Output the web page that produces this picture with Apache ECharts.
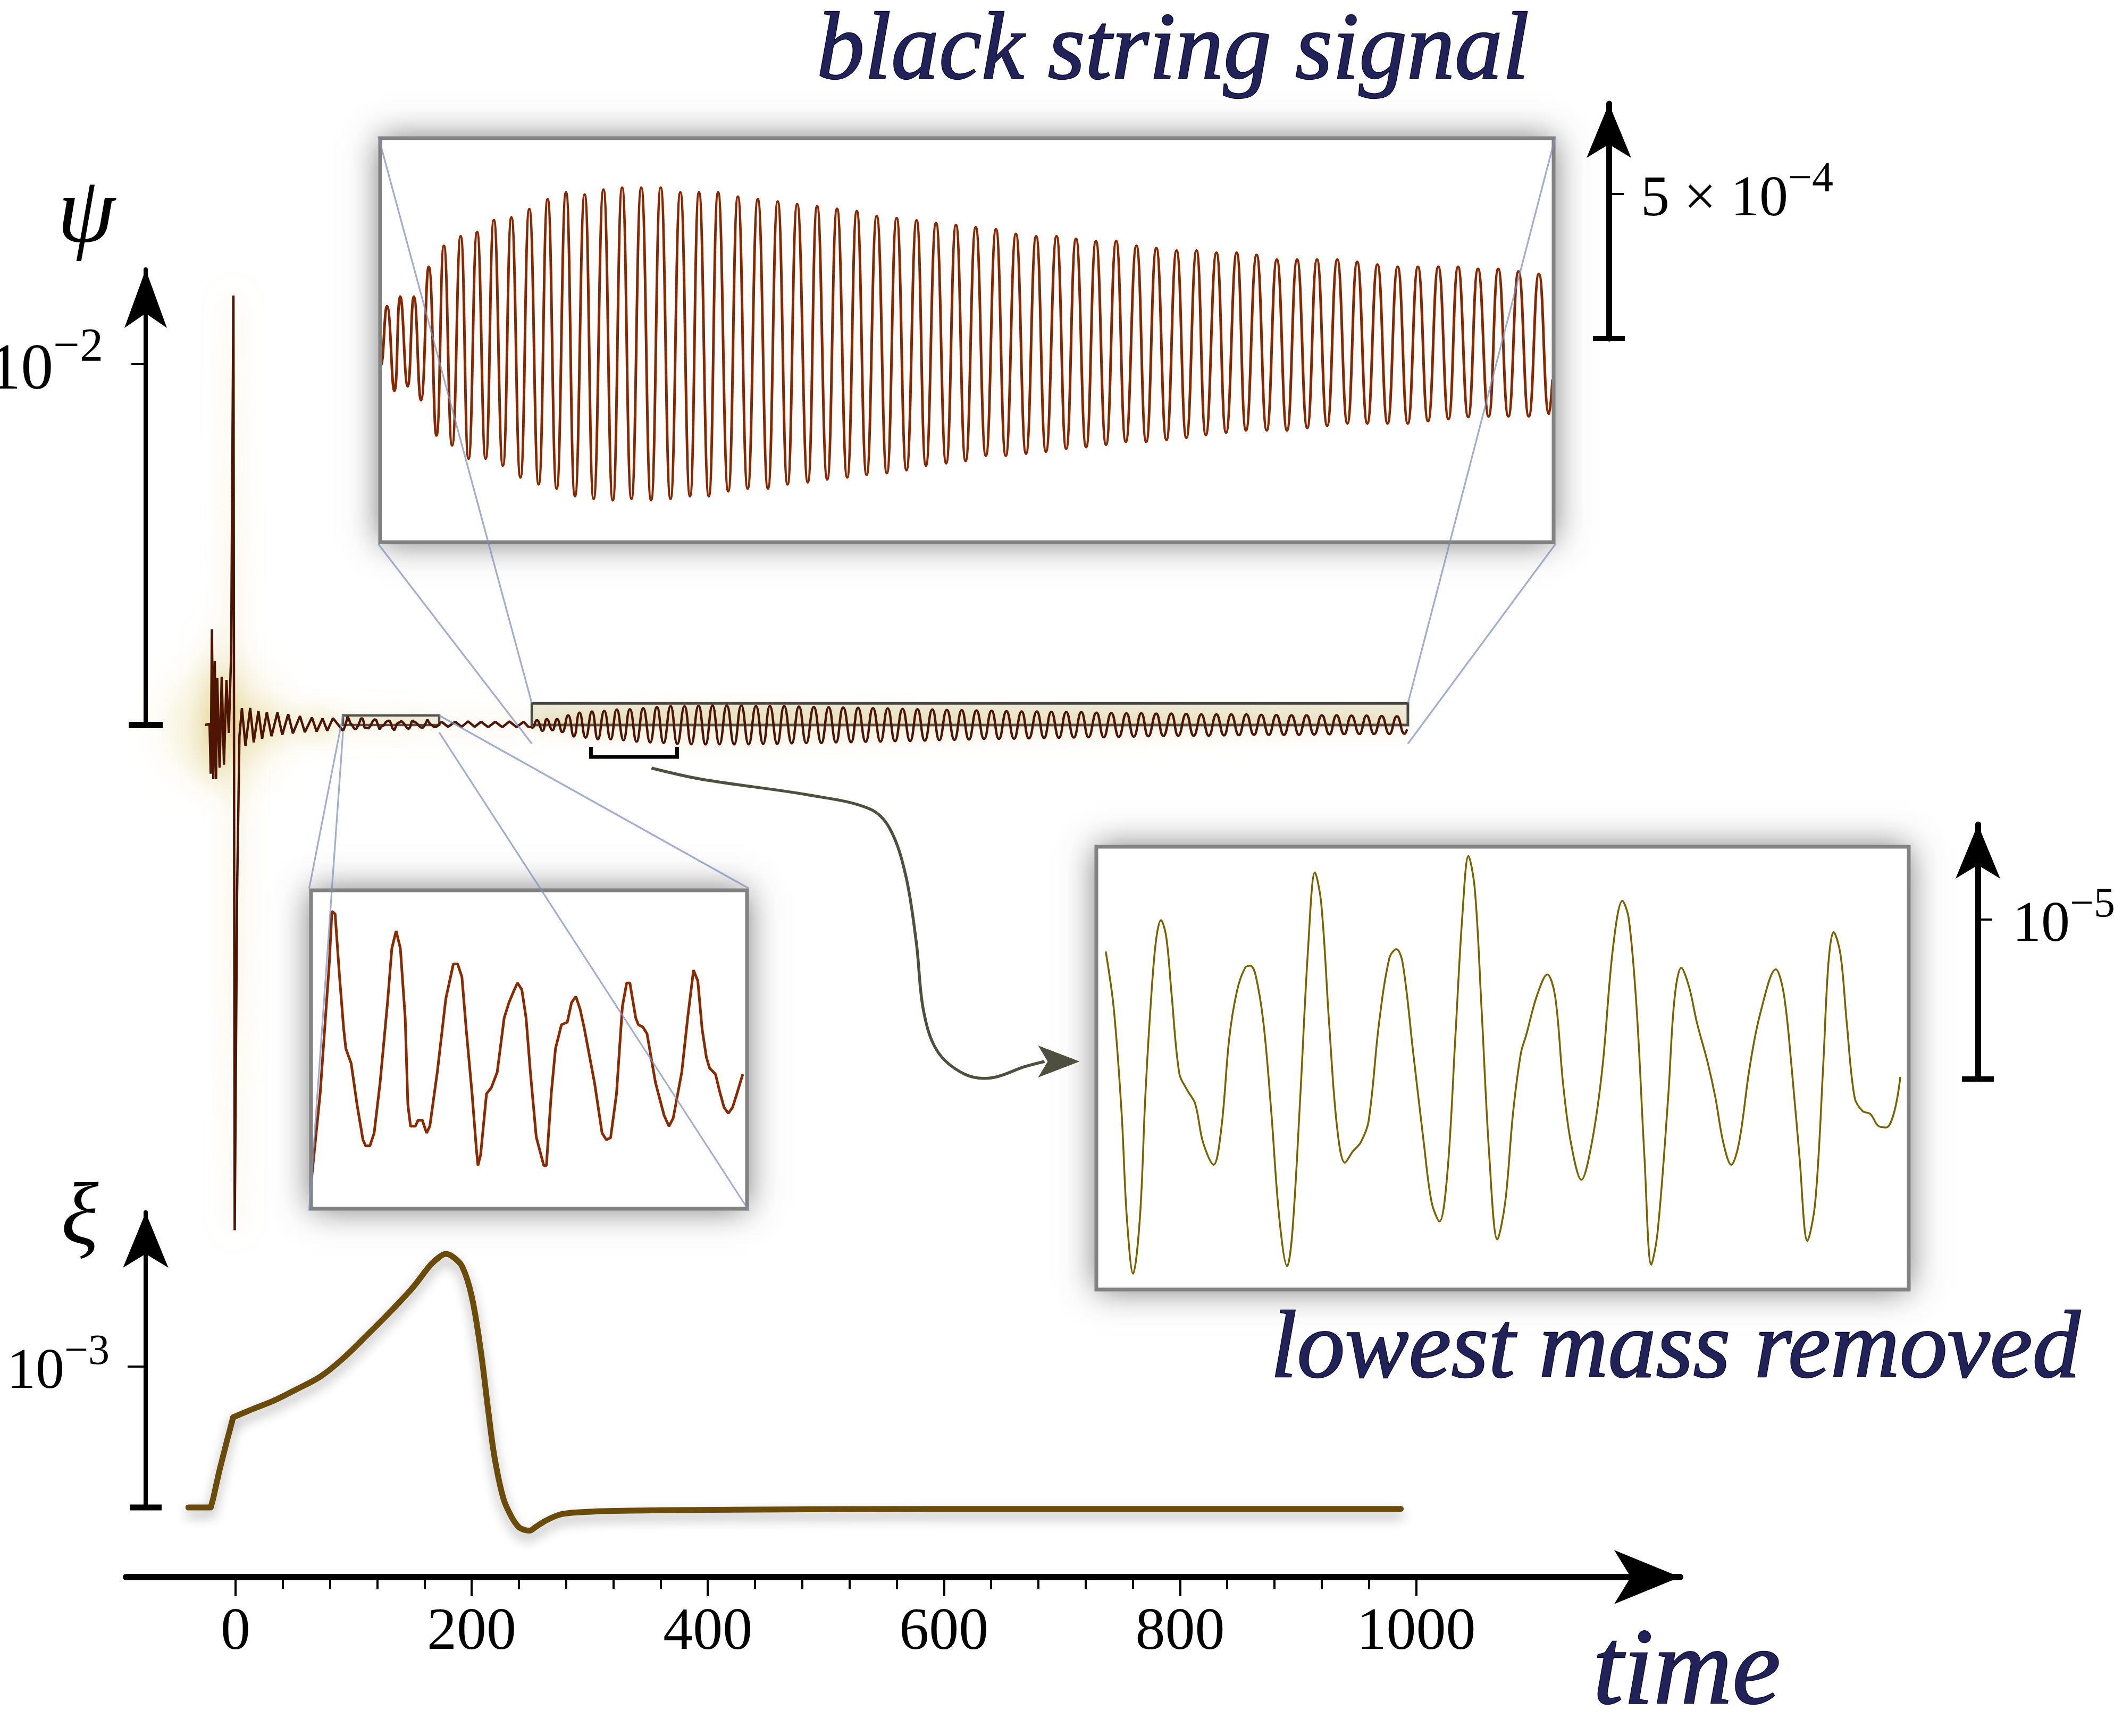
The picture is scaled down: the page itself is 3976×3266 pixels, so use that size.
<!DOCTYPE html>
<html><head><meta charset="utf-8">
<script src="https://cdn.jsdelivr.net/npm/echarts@6/dist/echarts.min.js"></script>
<style>html,body{margin:0;padding:0;background:#fff}#c{width:3976px;height:3266px}</style>
</head><body><div id="c"></div>
<script>
// ================= DATA =================
// main signal psi (units of 1e-4), time in code units
const preSpike = [[-26,0],[-22,0.3],[-21,-13.5],[-20,26.5],[-18.8,-15],[-17.6,17.8],[-16.5,-15],[-15.5,13],[-13.5,-11.8],[-11.7,13.4],[-9.8,-11],[-7.7,12.5],[-5.7,-2.2],[-3.7,20],[-1.8,119],[-0.7,-140],[1.3,-46.5],[3.3,-3.1]];
const ringing = [[5.4,4.7],[8.4,-5.7],[12.4,4.7],[15.4,-4.8],[19.4,3.9],[22.5,-3.8],[26.5,3.5],[30.5,-3.1],[35.5,3.5],[39.6,-2.7],[44.6,3.0],[48.6,-2.3],[54.6,2.5],[58.7,-2.0],[64.7,2.1],[68.7,-1.8],[73.7,1.8],[77.7,-1.6],[82.5,1.9]];
// detail shown in the small inset (t 91..172)
const smallSignal = [[91.1,-1.62],[92.7,-0.36],[94.4,1.56],[94.9,2.34],[95.5,2.30],[96.3,1.40],[97.1,0.60],[97.5,0.31],[98.5,0.09],[99.6,-0.52],[100.7,-1.04],[101.2,-1.13],[102.0,-1.13],[102.8,-0.94],[103.9,-0.20],[105.3,0.99],[106.1,1.79],[106.9,2.05],[107.7,1.79],[108.6,0.76],[109.1,-0.52],[109.6,-0.84],[110.5,-0.84],[111.0,-0.75],[111.8,-0.75],[112.6,-0.94],[113.2,-0.84],[114.6,-0.04],[116.2,1.05],[117.6,1.56],[118.4,1.56],[119.2,1.37],[120.0,0.60],[121.1,-0.36],[121.9,-1.17],[122.2,-1.42],[122.7,-1.26],[123.8,-0.36],[124.7,-0.27],[125.8,-0.04],[127.1,0.76],[128.0,0.99],[129.0,1.18],[129.6,1.28],[130.4,1.18],[131.2,0.76],[132.0,-0.04],[133.1,-1.00],[134.5,-1.42],[135.0,-1.42],[135.9,-0.36],[136.7,0.31],[137.8,0.66],[138.9,0.70],[139.7,0.99],[140.5,1.08],[141.3,0.89],[142.1,0.60],[144.0,-0.20],[145.4,-0.94],[146.2,-1.04],[147.0,-1.01],[148.1,-0.36],[149.2,0.93],[150.0,1.28],[150.6,1.28],[151.7,0.76],[152.2,0.66],[153.0,0.63],[153.8,0.53],[155.4,-0.20],[157.0,-0.68],[157.9,-0.84],[158.7,-0.72],[160.3,-0.04],[161.4,0.76],[162.5,1.47],[163.3,1.31],[164.1,0.60],[164.9,0.18],[165.5,0.02],[166.6,-0.07],[167.4,-0.33],[168.2,-0.56],[169.0,-0.65],[169.8,-0.56],[170.6,-0.36],[171.7,-0.07]];
const gapSignal = [[174.5,0.9],[180,-0.5],[186,0.9],[191.5,-0.5],[197,1.0],[202.5,-0.5],[208,0.9],[214,-0.6],[220,0.9],[226,-0.6],[232,1.0],[238,-0.6],[244,0.9],[248,-0.5]];
// black string signal extrema (t 251..993), shown in the top inset
const bigSignal = [[251.0,-0.54],[251.4,-0.73],[255.3,1.32],[260.0,-1.61],[263.7,1.65],[268.4,-1.45],[272.3,1.65],[276.8,-1.93],[281.7,2.68],[286.6,-3.15],[291.3,3.41],[296.5,-3.49],[301.9,3.74],[306.9,-3.95],[312.3,3.89],[317.7,-3.95],[322.9,4.30],[328.6,-4.19],[334.0,4.39],[339.7,-4.60],[345.3,4.68],[351.2,-4.84],[356.9,5.02],[362.6,-4.99],[368.5,5.26],[374.2,-5.25],[380.3,5.18],[386.0,-5.34],[392.2,5.35],[398.1,-5.39],[404.0,5.42],[409.9,-5.34],[416.1,5.42],[422.3,-5.39],[428.4,5.42],[434.6,-5.34],[440.8,5.26],[446.9,-5.25],[452.6,5.26],[458.8,-5.25],[464.7,5.26],[471.1,-5.08],[477.2,5.11],[483.4,-4.99],[489.8,5.02],[496.2,-4.99],[502.4,4.94],[508.6,-4.84],[514.7,4.85],[521.4,-4.77],[527.3,4.78],[533.7,-4.67],[539.9,4.69],[546.3,-4.60],[552.4,4.61],[558.6,-4.51],[565.0,4.44],[571.4,-4.45],[577.6,4.37],[583.8,-4.35],[590.2,4.29],[596.1,-4.19],[602.5,4.20],[608.9,-4.11],[615.1,4.13],[621.2,-4.03],[627.6,4.05],[634.0,-3.85],[640.4,3.98],[646.6,-3.85],[653.0,3.82],[659.4,-3.78],[665.8,3.74],[672.0,-3.71],[678.7,3.74],[684.8,-3.61],[691.0,3.65],[697.4,-3.55],[703.6,3.57],[710.0,-3.47],[716.4,3.57],[722.5,-3.37],[729.2,3.41],[735.4,-3.37],[741.8,3.33],[748.2,-3.30],[754.6,3.24],[760.8,-3.23],[767.2,3.24],[773.1,-3.13],[779.8,3.17],[785.9,-3.05],[792.6,3.17],[798.5,-2.97],[805.2,3.09],[811.6,-2.97],[818.0,2.93],[824.4,-2.97],[830.8,2.93],[837.2,-2.89],[843.4,2.93],[849.8,-2.81],[856.2,2.93],[862.6,-2.73],[868.8,2.85],[875.2,-2.73],[881.6,2.76],[888.0,-2.73],[894.4,2.68],[900.8,-2.73],[907.2,2.68],[913.6,-2.65],[920.1,2.68],[926.5,-2.58],[932.6,2.68],[939.0,-2.51],[945.2,2.61],[951.9,-2.49],[958.0,2.61],[964.4,-2.49],[970.8,2.52],[977.3,-2.49],[983.7,2.44],[990.1,-2.41],[992.3,-1.21]];
// "lowest mass removed" signal (units 1e-5), t 301..374
const lowMassSignal = [[301.65,0.716],[302.37,0.361],[303.08,-0.294],[303.55,-0.948],[304.12,-1.304],[304.74,-0.948],[305.22,-0.200],[305.69,0.361],[306.17,0.773],[306.64,0.913],[307.11,0.810],[307.59,0.455],[308.30,-0.050],[309.01,-0.153],[309.73,-0.238],[310.44,-0.481],[311.39,-0.621],[312.10,-0.387],[312.81,0.174],[313.52,0.473],[314.24,0.614],[314.71,0.627],[315.19,0.567],[315.90,0.267],[316.61,-0.294],[317.32,-0.948],[318.04,-1.257],[318.51,-1.042],[319.22,-0.200],[319.93,0.735],[320.55,1.212],[321.12,1.016],[321.83,0.267],[322.55,-0.387],[323.26,-0.608],[323.97,-0.537],[324.68,-0.481],[325.39,-0.350],[326.34,0.267],[327.29,0.679],[327.91,0.731],[328.48,0.642],[329.43,0.080],[330.38,-0.481],[331.09,-0.855],[331.80,-0.976],[332.52,-0.668],[333.23,0.174],[333.85,0.922],[334.42,1.315],[334.99,1.109],[335.60,0.361],[336.31,-0.574],[337.03,-1.089],[337.74,-0.855],[338.45,-0.294],[339.16,0.080],[339.64,0.193],[340.59,0.436],[341.54,0.572],[342.25,0.436],[342.96,-0.107],[343.67,-0.481],[344.62,-0.715],[345.57,-0.481],[346.52,-0.013],[347.47,0.735],[348.33,1.034],[348.90,0.922],[349.61,0.361],[350.32,-0.574],[350.94,-1.248],[351.51,-1.042],[352.46,-0.200],[353.03,0.417],[353.65,0.614],[354.36,0.492],[355.07,0.267],[356.02,0.024],[356.73,-0.200],[357.44,-0.481],[358.16,-0.621],[358.87,-0.481],[359.82,-0.013],[360.77,0.324],[362.19,0.604],[362.90,0.455],[363.62,-0.013],[364.33,-0.574],[365.04,-1.098],[365.75,-0.855],[366.46,-0.013],[366.94,0.642],[367.41,0.838],[368.03,0.698],[368.60,0.267],[369.31,-0.200],[370.02,-0.284],[370.74,-0.303],[371.45,-0.378],[372.16,-0.387],[372.87,-0.294],[373.44,-0.069]];
// xi (units 1e-3)
const xiSignal = [[-40,0],[-21,0],[-19,0.06],[-14,0.25],[-8,0.45],[-2,0.64],[5,0.665],[15,0.70],[33,0.76],[52,0.84],[72,0.93],[90,1.05],[111,1.22],[130,1.38],[150,1.56],[165,1.72],[173,1.78],[178,1.80],[184,1.78],[192,1.71],[200,1.50],[207.6,1.12],[214,0.69],[219.3,0.36],[227,0.06],[234,-0.07],[240,-0.14],[245,-0.16],[249,-0.165],[254,-0.14],[262,-0.097],[270,-0.065],[277,-0.046],[290,-0.035],[312,-0.026],[360,-0.02],[421,-0.016],[600,-0.01],[987,-0.01]];
const xiKinkT = -2;
// zoom regions
const smallBox = {t:[91,172.5], psi:[-2.06,2.65]};
const bigBox = {t:[251,993], psi:[-5.2,6.0]};
const bracketRange = {t:[301,374], psi:[-6.04,-8.84]};
// tick labels
const timeMajor = [0,200,400,600,800,1000];
const timeMinor = [40,80,120,160,240,280,320,360,440,480,520,560,640,680,720,760,840,880,920,960];
const psiTick = [100];   // 1e-2 in units of 1e-4
const xiTick = [1];      // 1e-3
const topScaleTick = [5]; // 5e-4 in units of 1e-4
const rightScaleTick = [1]; // 1e-5

// ================= LAYOUT =================
const X0 = 443, PXT = 2.2205;           // pixel of t=0, pixels per time unit
const tAtPx = px => (px - X0) / PXT;
const SERIF = 'Liberation Serif';
const INK = '#22225a';

const G = {
  main:  {left:274, top:507, width:2824, height:857},
  xi:    {left:274, top:2281, width:2824, height:555},
  time:  {left:237, top:2966, width:2923, height:1},
  top:   {left:715, top:260, width:2207, height:760},
  small: {left:585, top:1675, width:820, height:599},
  right: {left:2062, top:1593, width:1528, height:833},
  sTop:  {left:3026, top:195, width:10, height:442},
  sRight:{left:3720, top:1551, width:10, height:479}
};

function powRich(size, ratio){
  const s = Math.round(size*(ratio||0.74));
  return {
    n:{fontSize:size, lineHeight:size, fontFamily:SERIF, color:'#000', verticalAlign:'bottom'},
    e:{fontSize:s, lineHeight:s, fontFamily:SERIF, color:'#000', verticalAlign:'top'},
    h:{fontSize:4, lineHeight:Math.round(size*1.22)}
  };
}
const arrowLine = (w, sz) => ({show:true, onZero:false, lineStyle:{color:'#000', width:w}, symbol:['none','arrow'], symbolSize:sz});
const hidden = (gi, min, max) => ({gridIndex:gi, type:'value', min, max, show:false, splitLine:{show:false}});
const gridOf = g => Object.assign({show:false, containLabel:false, outerBoundsMode:'none'}, g);

const kink = xiSignal.findIndex(p => p[0] === xiKinkT);
const xiStyle = {color:'#6b4b0a', width:11, cap:'round', join:'round', shadowBlur:22, shadowOffsetY:12, shadowColor:'rgba(0,0,0,0.32)'};
const boxAreas = (fillSmall, fillBig, border) => [
  [{coord:[smallBox.t[0], smallBox.psi[1]], itemStyle:{color:fillSmall, borderColor:border?'#4d4d4d':'transparent', borderWidth:border?4.5:0, opacity:1}}, {coord:[smallBox.t[1], smallBox.psi[0]]}],
  [{coord:[bigBox.t[0], bigBox.psi[1]], itemStyle:{color:fillBig, borderColor:border?'#474747':'transparent', borderWidth:border?5:0, opacity:1}}, {coord:[bigBox.t[1], bigBox.psi[0]]}]
];

const option = {
  animation:false,
  backgroundColor:'#fff',
  grid:[gridOf(G.main), gridOf(G.xi), gridOf(G.time), gridOf(G.top), gridOf(G.small), gridOf(G.right), gridOf(G.sTop), gridOf(G.sRight)],
  xAxis:[
    hidden(0, tAtPx(G.main.left), tAtPx(G.main.left+G.main.width)),
    hidden(1, tAtPx(G.xi.left), tAtPx(G.xi.left+G.xi.width)),
    {gridIndex:2, type:'value', position:'bottom', min:tAtPx(G.time.left), max:tAtPx(G.time.left+G.time.width),
      axisLine:arrowLine(12,[76,124]),
      axisTick:{show:true, customValues:timeMajor, length:36, lineStyle:{color:'#000', width:4}},
      axisLabel:{show:true, customValues:timeMajor, margin:50, fontSize:112, fontFamily:SERIF, color:'#000', formatter:v => String(v)},
      splitLine:{show:false}},
    {gridIndex:2, type:'value', position:'bottom', min:tAtPx(G.time.left), max:tAtPx(G.time.left+G.time.width),
      axisLine:{show:false, onZero:false},
      axisTick:{show:true, customValues:timeMinor, length:23, lineStyle:{color:'#000', width:4}},
      axisLabel:{show:false}, splitLine:{show:false}},
    hidden(3, bigBox.t[0], bigBox.t[1]),
    hidden(4, smallBox.t[0], smallBox.t[1]),
    hidden(5, 300.8, 374.2),
    hidden(6, 0, 1),
    hidden(7, 0, 1)
  ],
  yAxis:[
    {gridIndex:0, type:'value', min:0, max:G.main.height/6.79, position:'left',
      axisLine:arrowLine(8,[60,110]),
      axisTick:{show:true, customValues:psiTick, length:27, lineStyle:{color:'#000', width:4}},
      axisLabel:{show:true, customValues:psiTick, margin:80, formatter:()=>'{n|10}{e|\u22122}{h|\u200b}', rich:powRich(122, 0.72)},
      splitLine:{show:false}},
    {gridIndex:1, type:'value', min:0, max:G.xi.height/265, position:'left',
      axisLine:arrowLine(8,[64,104]),
      axisTick:{show:true, customValues:xiTick, length:34, lineStyle:{color:'#000', width:4}},
      axisLabel:{show:true, customValues:xiTick, margin:68, formatter:()=>'{n|10}{e|\u22123}{h|\u200b}', rich:powRich(108)},
      splitLine:{show:false}},
    hidden(2, 0, 1),
    hidden(3, -6.84, 7.13),
    hidden(4, smallBox.psi[0], smallBox.psi[1]),
    hidden(5, -1.403, 1.373),
    {gridIndex:6, type:'value', min:0, max:G.sTop.height/54.4, position:'left',
      axisLine:arrowLine(11,[63,102]),
      axisTick:{show:true, inside:true, customValues:topScaleTick, length:28, lineStyle:{color:'#000', width:4}},
      axisLabel:{show:true, inside:true, customValues:topScaleTick, margin:60, formatter:()=>'{n|5 \u00d7 10}{e|\u22124}{h|\u200b}', rich:powRich(108)},
      splitLine:{show:false}},
    {gridIndex:7, type:'value', min:0, max:G.sRight.height/300, position:'left',
      axisLine:arrowLine(11,[63,102]),
      axisTick:{show:true, inside:true, customValues:rightScaleTick, length:27, lineStyle:{color:'#000', width:4}},
      axisLabel:{show:true, inside:true, customValues:rightScaleTick, margin:65, formatter:()=>'{n|10}{e|\u22125}{h|\u200b}', rich:powRich(108)},
      splitLine:{show:false}}
  ],
  series:[
    // zoom-box fills (below the signal)
    {type:'line', xAxisIndex:0, yAxisIndex:0, data:[[bigBox.t[0],0]], symbol:'none', clip:false, z:1, silent:true,
      lineStyle:{width:0},
      markArea:{silent:true, data:boxAreas('rgba(232,226,204,0.5)','rgba(226,218,186,0.55)', false)}},
    {type:'line', xAxisIndex:0, yAxisIndex:0, symbol:'none', clip:false, z:3,
      data:[].concat(preSpike, ringing, smallSignal, gapSignal, [bigSignal[0]]),
      lineStyle:{color:'#4e1505', width:4.5, shadowBlur:50, shadowColor:'rgba(205,185,80,0.6)'}},
    {type:'line', xAxisIndex:0, yAxisIndex:0, symbol:'none', clip:false, z:3, smooth:0.5,
      data:bigSignal,
      lineStyle:{color:'#4e1505', width:4.5, shadowBlur:30, shadowColor:'rgba(200,180,80,0.45)'}},
    // zoom-box frames (above the signal)
    {type:'line', xAxisIndex:0, yAxisIndex:0, data:[[bigBox.t[0],0]], symbol:'none', clip:false, z:5, silent:true,
      lineStyle:{width:0},
      markArea:{silent:true, data:boxAreas('rgba(0,0,0,0)','rgba(0,0,0,0)', true)}},
    {type:'line', xAxisIndex:1, yAxisIndex:1, symbol:'none', clip:false, z:3,
      data:xiSignal.slice(0, kink+1), lineStyle:xiStyle},
    {type:'line', xAxisIndex:1, yAxisIndex:1, symbol:'none', clip:false, z:3, smooth:0.35,
      data:xiSignal.slice(kink), lineStyle:xiStyle},
    {type:'line', xAxisIndex:4, yAxisIndex:3, symbol:'none', smooth:0.5, z:3,
      data:bigSignal, lineStyle:{color:'#872800', width:5}},
    {type:'line', xAxisIndex:5, yAxisIndex:4, symbol:'none', z:3,
      data:smallSignal, lineStyle:{color:'#8a2a00', width:5}},
    {type:'line', xAxisIndex:6, yAxisIndex:5, symbol:'none', smooth:0.35, z:3,
      data:lowMassSignal, lineStyle:{color:'#7a6200', width:3.5}}
  ]
};

const chart = echarts.init(document.getElementById('c'), null, {renderer:'canvas', width:3976, height:3266});
chart.setOption(option);

// ================= annotations computed from the coordinate systems =================
const P = (gi, pt) => chart.convertToPixel({gridIndex:gi}, pt);
const els = [];
function outer(g){ const b = 3.5; return {x0:g.left-b, y0:g.top-b, x1:g.left+g.width+b, y1:g.top+g.height+b}; }

// soft glow around the burst near t = 0
const gc = P(0, [-10, 0]);
els.push({type:'ellipse', z:0, silent:true, shape:{cx:gc[0], cy:gc[1], rx:190, ry:210},
  style:{fill:{type:'radial', x:0.5, y:0.5, r:0.5, colorStops:[
    {offset:0, color:'rgba(232,218,150,0.6)'}, {offset:0.45, color:'rgba(240,230,185,0.35)'}, {offset:1, color:'rgba(255,255,255,0)'}]}}});
const gc2 = P(0, [70, 0]);
els.push({type:'ellipse', z:0, silent:true, shape:{cx:gc2[0], cy:gc2[1], rx:260, ry:75},
  style:{fill:{type:'radial', x:0.5, y:0.5, r:0.5, colorStops:[
    {offset:0, color:'rgba(240,230,185,0.45)'}, {offset:1, color:'rgba(255,255,255,0)'}]}}});

// inset frames: white card with outside shadow, grey border on top
[G.top, G.small, G.right].forEach(g => {
  els.push({type:'rect', z:0, silent:true, shape:{x:g.left, y:g.top, width:g.width, height:g.height},
    style:{fill:'#fff', shadowBlur:60, shadowColor:'rgba(0,0,0,0.55)'}});
  els.push({type:'rect', z:90, silent:true, shape:{x:g.left, y:g.top, width:g.width, height:g.height},
    style:{fill:null, stroke:'#828282', lineWidth:7}});
});

function connectors(box, g){
  const tl = P(0,[box.t[0], box.psi[1]]), br = P(0,[box.t[1], box.psi[0]]);
  const o = outer(g);
  const pairs = [[[tl[0],tl[1]],[o.x0,o.y0]], [[br[0],tl[1]],[o.x1,o.y0]], [[tl[0],br[1]],[o.x0,o.y1]], [[br[0],br[1]],[o.x1,o.y1]]];
  pairs.forEach(([a,b]) => els.push({type:'line', z:100, silent:true,
    shape:{x1:a[0], y1:a[1], x2:b[0], y2:b[1]}, style:{stroke:'rgba(128,142,190,0.72)', lineWidth:3.2}}));
}
connectors(smallBox, G.small);
connectors(bigBox, G.top);

// bracket
const bL = P(0,[bracketRange.t[0], bracketRange.psi[0]]), bR = P(0,[bracketRange.t[1], bracketRange.psi[1]]);
els.push({type:'polyline', z:60, silent:true, shape:{points:[[bL[0],bL[1]],[bL[0],bR[1]],[bR[0],bR[1]],[bR[0],bL[1]]]},
  style:{stroke:'#000', lineWidth:7, fill:null, lineJoin:'miter', lineCap:'butt'}});

// curved arrow from bracket to right inset
const S = [(bL[0]+bR[0])/2 + 33, bR[1] + 21];
const E = [outer(G.right).x0 - 94, G.right.top + 0.485*G.right.height];
const fr = [[0,0],[0.127,0.038],[0.401,0.092],[0.555,0.139],[0.607,0.208],[0.647,0.367],[0.674,0.597],[0.692,0.826],[0.727,0.964],[0.795,1.042],[0.864,1.056],[0.949,1.018],[1,1]];
els.push({type:'polyline', z:60, silent:true,
  shape:{points:fr.map(([fx,fy]) => [S[0]+fx*(E[0]-S[0]), S[1]+fy*(E[1]-S[1])]), smooth:0.35},
  style:{stroke:'#4f4f40', lineWidth:5.5, fill:null}});
els.push({type:'polygon', z:61, silent:true,
  shape:{points:[[E[0]+66,E[1]],[E[0]-12,E[1]-30],[E[0]+6,E[1]],[E[0]-12,E[1]+30]]},
  style:{fill:'#4f4f40'}});

// end caps of the vertical axes
function cap(gi, xv, w, lw){
  const p = P(gi,[xv,0]);
  els.push({type:'line', z:70, silent:true, shape:{x1:p[0]-w/2, y1:p[1], x2:p[0]+w/2, y2:p[1]}, style:{stroke:'#000', lineWidth:lw}});
}
cap(0, tAtPx(G.main.left), 64, 12);
cap(1, tAtPx(G.xi.left), 60, 11);
cap(6, 0, 60, 10);
cap(7, 0, 60, 10);

// texts
function label(text, x, y, size, align, color, stroke){
  els.push({type:'text', z:80, silent:true, style:{text, x, y,
    font:'italic ' + size + 'px "Liberation Serif", "DejaVu Serif", serif',
    fill:color, stroke:stroke, lineWidth:stroke?2.5:0, align:align, verticalAlign:'middle', textAlign:align, textVerticalAlign:'middle'}});
}
label('black string signal', 2206, 100, 180, 'center', INK, '#05051c');
label('lowest mass removed', 3151, 2543, 180, 'center', INK, '#05051c');
label('time', 2996, 3150, 205, 'left', INK, '#05051c');
label('\u03c8', 162, 408, 175, 'center', '#000', null);
label('\u03be', 150, 2296, 165, 'center', '#000', null);

chart.setOption({graphic:{elements:els}});
</script>
</body></html>
